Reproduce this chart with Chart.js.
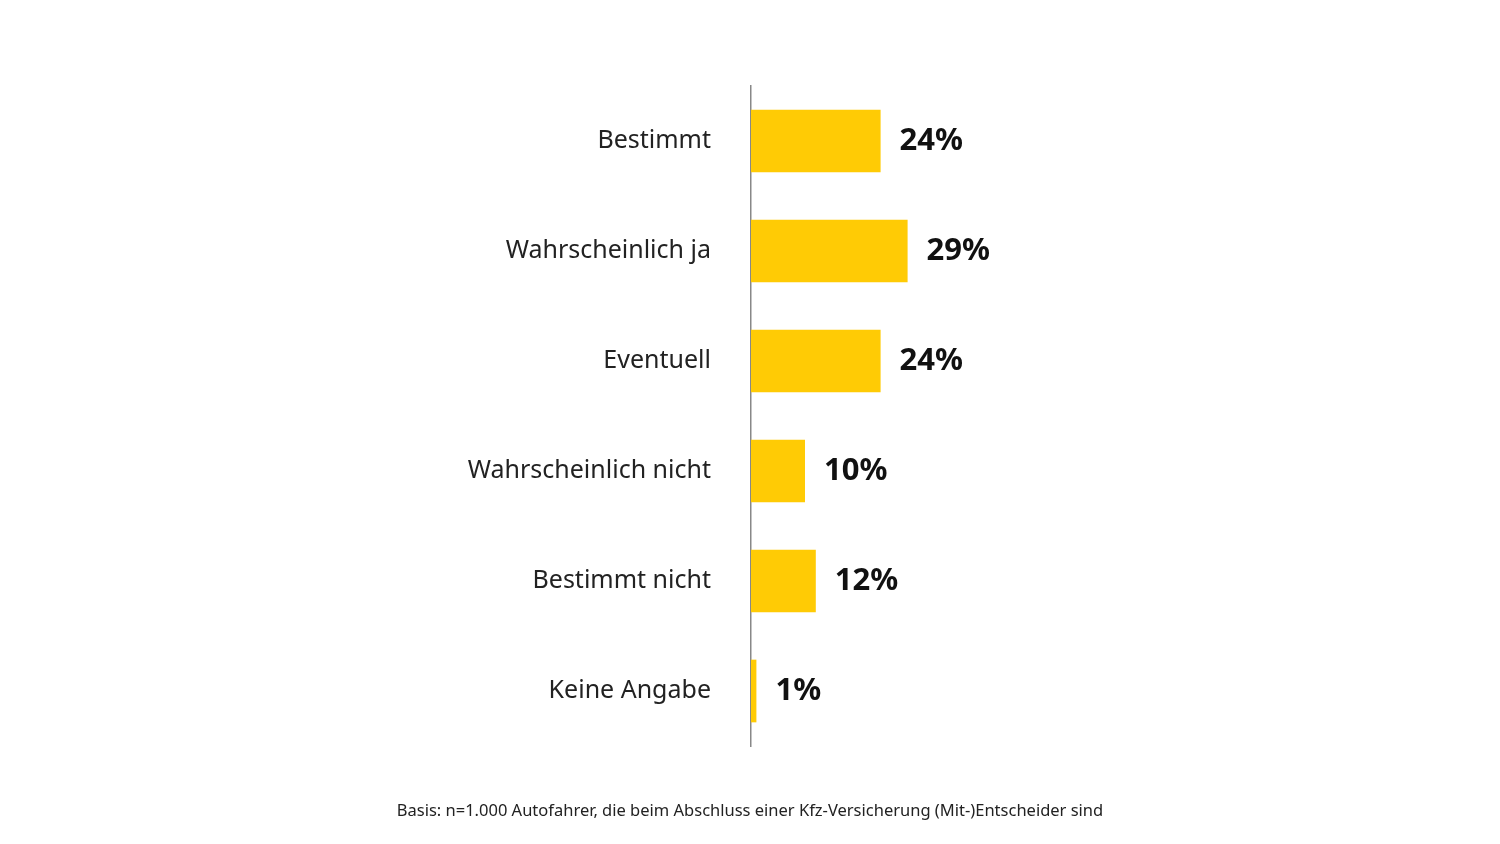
<!DOCTYPE html>
<html>
<head>
<meta charset="utf-8">
<script src="https://cdn.jsdelivr.net/npm/chart.js@4"></script>
<style>
  html, body { margin: 0; padding: 0; background: #fff; }
  #wrap { position: relative; width: 1500px; height: 844px; }
  #note {
    position: absolute; left: 0; width: 1500px; top: 798px; text-align: center;
    font-family: "Noto Sans", sans-serif; font-size: 16.5px; color: #222;
  }
</style>
</head>
<body>
<div id="wrap">
  <canvas id="chart" width="1500" height="844"></canvas>
  <div id="note">Basis: n=1.000 Autofahrer, die beim Abschluss einer Kfz-Versicherung (Mit-)Entscheider sind</div>
</div>
<script>
const categories = ['Bestimmt', 'Wahrscheinlich ja', 'Eventuell', 'Wahrscheinlich nicht', 'Bestimmt nicht', 'Keine Angabe'];
const values = [24, 29, 24, 10, 12, 1];
const valueLabels = ['24%', '29%', '24%', '10%', '12%', '1%'];

// Draws the bold percentage next to each bar
const valueLabelPlugin = {
    id: 'valueLabels',
    afterDatasetsDraw(chart) {
        const ctx = chart.ctx;
        const meta = chart.getDatasetMeta(0);
        ctx.save();
        ctx.font = 'bold 31px "Noto Sans", sans-serif';
        ctx.fillStyle = '#111';
        ctx.textBaseline = 'middle';
        meta.data.forEach((bar, i) => {
            ctx.fillText(valueLabels[i], bar.x + 19, bar.y);
        });
        ctx.restore();
    }
};

new Chart(document.getElementById('chart'), {
    type: 'bar',
    data: {
        labels: categories,
        datasets: [{
            data: values,
            backgroundColor: '#FFCB05',
            barPercentage: 0.57,
            categoryPercentage: 1
        }]
    },
    options: {
        indexAxis: 'y',
        responsive: false,
        animation: false,
        layout: { padding: { top: 86, bottom: 98, right: 209, left: 0 } },
        plugins: { legend: { display: false }, tooltip: { enabled: false } },
        scales: {
            x: { min: 0, max: 100, display: false },
            y: {
                afterFit: (s) => { s.width = 751; },
                grid: { display: false },
                border: { display: true, color: '#888', width: 1.5 },
                ticks: {
                    padding: 32,
                    color: '#222',
                    font: { family: '"Noto Sans", sans-serif', size: 25 }
                }
            }
        }
    },
    plugins: [valueLabelPlugin]
});
</script>
</body>
</html>
